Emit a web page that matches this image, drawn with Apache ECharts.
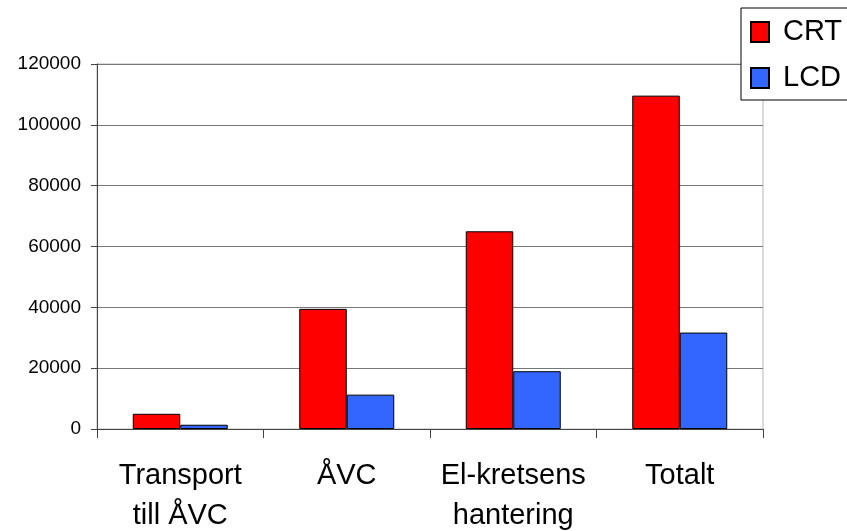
<!DOCTYPE html>
<html>
<head>
<meta charset="utf-8">
<script src="https://cdn.jsdelivr.net/npm/echarts@6/dist/echarts.min.js"></script>
<style>html,body{margin:0;padding:0;background:#fff}#c{width:847px;height:531px}</style>
</head>
<body>
<div id="c"></div>
<script>
const categories = ['Transport\ntill ÅVC', 'ÅVC', 'El-kretsens\nhantering', 'Totalt'];
const crtValues = [5000, 39500, 65000, 109600];
const lcdValues = [1400, 11300, 19000, 31700];
const yTicks = { min: 0, max: 120000, interval: 20000 };

const chart = echarts.init(document.getElementById('c'), null, { renderer: 'canvas' });
const font = '"Liberation Sans", Arial, sans-serif';
chart.setOption({
  animation: false,
  backgroundColor: '#fff',
  textStyle: { fontFamily: font },
  grid: { left: 97, right: 84, top: 64, bottom: 102, containLabel: false, outerBoundsMode: 'none',
    show: true, borderColor: '#b8b8b8', borderWidth: 1, backgroundColor: 'transparent' },
  legend: {
    orient: 'vertical', left: 741, top: 8,
    padding: [9, 8, 7, 9],
    borderColor: '#000', borderWidth: 1, backgroundColor: '#fff',
    itemWidth: 18, itemHeight: 20, itemGap: 16,
    icon: 'rect',
    textStyle: { fontSize: 29, color: '#000', fontFamily: font, lineHeight: 30, padding: [0, 0, 0, 9] },
    data: ['CRT', 'LCD']
  },
  xAxis: {
    type: 'category', data: categories,
    axisLine: { lineStyle: { color: '#444', width: 1 } },
    axisTick: { show: true, length: 9, lineStyle: { color: '#444' } },
    axisLabel: { fontSize: 29, color: '#000', lineHeight: 40, margin: 27, fontFamily: font, interval: 0 }
  },
  yAxis: {
    type: 'value', min: yTicks.min, max: yTicks.max, interval: yTicks.interval,
    axisLine: { show: true, lineStyle: { color: '#444', width: 1 } },
    axisTick: { show: true, length: 6, lineStyle: { color: '#444' } },
    axisLabel: { fontSize: 19, color: '#000', margin: 16, fontFamily: font, formatter: v => String(v) },
    splitLine: { show: true, lineStyle: { color: '#777', width: 1 } }
  },
  series: [
    { name: 'CRT', type: 'bar', data: crtValues, barWidth: 47.5, barGap: '0%',
      itemStyle: { color: '#ff0000', borderColor: '#000', borderWidth: 1 } },
    { name: 'LCD', type: 'bar', data: lcdValues, barWidth: 47.5, barGap: '0%',
      itemStyle: { color: '#3366ff', borderColor: '#000', borderWidth: 1 } }
  ]
});
</script>
</body>
</html>
